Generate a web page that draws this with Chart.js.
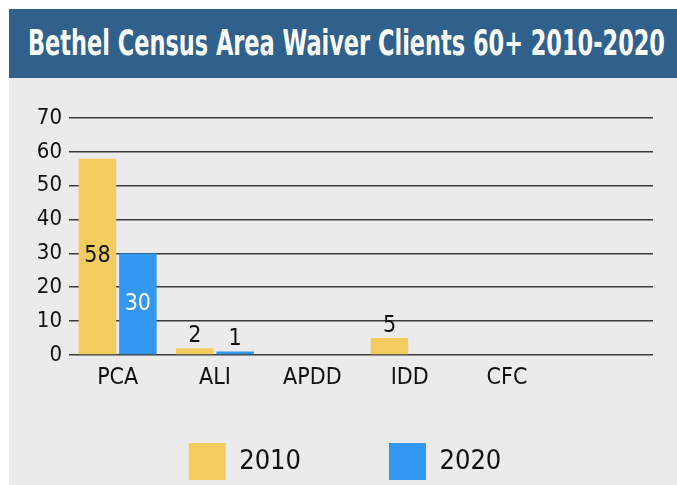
<!DOCTYPE html>
<html>
<head>
<meta charset="utf-8">
<script src="https://cdn.jsdelivr.net/npm/chart.js@4.4.0/dist/chart.umd.min.js"></script>
<style>
  html, body { margin: 0; padding: 0; background: #ffffff; width: 677px; height: 485px; overflow: hidden; }
  #header {
    position: absolute; left: 9px; top: 9px; width: 668px; height: 69px;
    background: #30618c; overflow: hidden;
  }
  #title {
    position: absolute; left: 19px; top: 0; height: 69px; line-height: 69px;
    color: #ffffff; white-space: nowrap;
    font-family: "DejaVu Sans Condensed", "DejaVu Sans", sans-serif;
    font-weight: bold; font-size: 35px; transform-origin: 0 50%;
  }
  #wrap { position: absolute; left: 9px; top: 78px; width: 668px; height: 407px; background: #ebebeb; }
  canvas { display: block; }
</style>
</head>
<body>
<div id="header"><span id="title">Bethel Census Area Waiver Clients 60+ 2010-2020</span></div>
<div id="wrap"><canvas id="c" width="668" height="407"></canvas></div>
<script>
const categories = ["PCA", "ALI", "APDD", "IDD", "CFC", ""];
const series2010 = [58, 2, null, 5, null, null];
const series2020 = [30, 1, null, null, null, null];
const seriesNames = ["2010", "2020"];
const yTicks = [0, 10, 20, 30, 40, 50, 60, 70];

// condense the title to the reference's width
(function () {
  const t = document.getElementById('title');
  const w = t.getBoundingClientRect().width;
  t.style.transform = 'scaleX(' + (637 / w) + ')';
})();

const FONT = '"DejaVu Sans Condensed", "DejaVu Sans", sans-serif';

const labelPlugin = {
  id: 'barLabels',
  afterDatasetsDraw(chart) {
    const ctx = chart.ctx;
    ctx.save();
    ctx.font = '23px ' + FONT;
    ctx.textAlign = 'center';
    chart.data.datasets.forEach((ds, di) => {
      const meta = chart.getDatasetMeta(di);
      meta.data.forEach((bar, i) => {
        const v = ds.data[i];
        if (v === null || v === undefined) return;
        if (v >= 10) {
          ctx.fillStyle = di === 0 ? '#111111' : '#ffffff';
          ctx.textBaseline = 'middle';
          ctx.fillText(String(v), bar.x, (bar.y + bar.base) / 2);
        } else {
          ctx.fillStyle = '#111111';
          ctx.textBaseline = 'bottom';
          ctx.fillText(String(v), bar.x, bar.y - 1);
        }
      });
    });
    ctx.restore();
  }
};

new Chart(document.getElementById('c'), {
  type: 'bar',
  data: {
    labels: categories,
    datasets: [
      { label: seriesNames[0], data: series2010, backgroundColor: '#f2cc5e', borderWidth: 0 },
      { label: seriesNames[1], data: series2020, backgroundColor: '#3399f0', borderWidth: 0 }
    ]
  },
  options: {
    responsive: false,
    animation: false,
    devicePixelRatio: 1,
    layout: { padding: { top: 40, right: 24, left: 28, bottom: 0 } },
    datasets: { bar: { categoryPercentage: 0.83, barPercentage: 0.93 } },
    plugins: {
      legend: {
        position: 'bottom',
        maxHeight: 130,
        labels: {
          boxWidth: 37, boxHeight: 37, padding: 88,
          color: '#111111',
          font: { family: FONT, size: 27 }
        }
      },
      tooltip: { enabled: false },
      title: { display: false }
    },
    scales: {
      x: {
        grid: { display: false, drawTicks: false },
        border: { display: false },
        ticks: { color: '#111111', font: { family: FONT, size: 23 }, padding: 9 },
        afterFit(scale) {
          scale.height = 0;
          scale._computeLabelArea = function () { return undefined; };
        }
      },
      y: {
        min: 0, max: 70,
        afterBuildTicks(scale) { scale.ticks = yTicks.map(v => ({ value: v })); },
        grid: { color: '#3a3a3a', lineWidth: 1.6, drawTicks: false },
        border: { display: false },
        ticks: { color: '#111111', font: { family: FONT, size: 22 }, padding: 7 },
        afterFit(scale) {
          scale.width = 32;
          scale._computeLabelArea = function () { return undefined; };
        }
      }
    }
  },
  plugins: [labelPlugin]
});
</script>
</body>
</html>
